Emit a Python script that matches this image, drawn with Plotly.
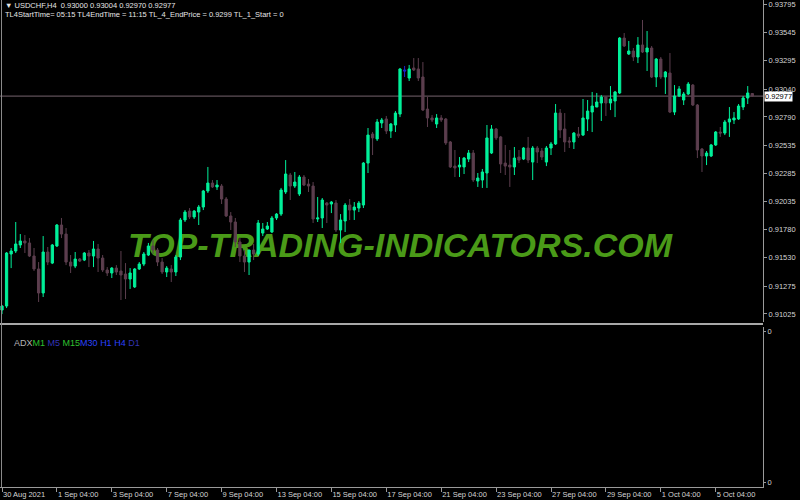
import plotly.graph_objects as go

# ---------------- data ----------------
bar_index = list(range(165))

opens = [
    0.91060, 0.91096, 0.91562, 0.91589, 0.91643, 0.91679, 0.91661, 0.91544, 0.91428, 0.91213,
    0.91580, 0.91481, 0.91634, 0.91822, 0.91741, 0.91490, 0.91454, 0.91517, 0.91508, 0.91571,
    0.91544, 0.91607, 0.91526, 0.91419, 0.91392, 0.91436, 0.91410, 0.91383, 0.91338, 0.91267,
    0.91428, 0.91472, 0.91553, 0.91634, 0.91598, 0.91490, 0.91401, 0.91428, 0.91401, 0.91535,
    0.91867, 0.91947, 0.91894, 0.91938, 0.91983, 0.92127, 0.92198, 0.92163, 0.92171, 0.92055,
    0.91903, 0.91849, 0.91670, 0.91544, 0.91490, 0.91598, 0.91562, 0.91750, 0.91786, 0.91759,
    0.91885, 0.91920, 0.92118, 0.92270, 0.92171, 0.92100, 0.92252, 0.92189, 0.92171, 0.91876,
    0.91885, 0.92019, 0.92010, 0.92019, 0.91777, 0.91858, 0.92001, 0.91956, 0.91974, 0.92001,
    0.92377, 0.92637, 0.92593, 0.92736, 0.92772, 0.92664, 0.92718, 0.92816, 0.93211, 0.93139,
    0.93229, 0.93220, 0.93148, 0.92861, 0.92781, 0.92727, 0.92781, 0.92772, 0.92566, 0.92350,
    0.92342, 0.92342, 0.92413, 0.92467, 0.92216, 0.92225, 0.92288, 0.92467, 0.92682, 0.92611,
    0.92377, 0.92359, 0.92342, 0.92431, 0.92413, 0.92512, 0.92386, 0.92512, 0.92485, 0.92386,
    0.92512, 0.92548, 0.92825, 0.92682, 0.92575, 0.92566, 0.92637, 0.92628, 0.92772, 0.92834,
    0.92879, 0.92915, 0.92969, 0.92915, 0.92933, 0.93005, 0.93497, 0.93354, 0.93381, 0.93327,
    0.93435, 0.93372, 0.93408, 0.93148, 0.93309, 0.93148, 0.93184, 0.92834, 0.92978, 0.92942,
    0.92996, 0.93076, 0.92897, 0.92503, 0.92440, 0.92440, 0.92539, 0.92655, 0.92646, 0.92745,
    0.92763, 0.92772, 0.92879, 0.92960, 0.93000,
]
highs = [
    0.91105, 0.91580, 0.91616, 0.91849, 0.91741, 0.91732, 0.91705, 0.91616, 0.91490, 0.91723,
    0.91625, 0.91652, 0.91831, 0.91885, 0.91795, 0.91553, 0.91580, 0.91526, 0.91580, 0.91598,
    0.91679, 0.91652, 0.91553, 0.91445, 0.91445, 0.91463, 0.91589, 0.91481, 0.91436, 0.91436,
    0.91490, 0.91580, 0.91661, 0.91688, 0.91616, 0.91526, 0.91454, 0.91463, 0.91553, 0.91885,
    0.91956, 0.91974, 0.91956, 0.92001, 0.92136, 0.92342, 0.92225, 0.92225, 0.92189, 0.92073,
    0.91938, 0.91885, 0.91705, 0.91598, 0.91580, 0.91652, 0.91867, 0.91840, 0.91849, 0.91903,
    0.91929, 0.92154, 0.92404, 0.92288, 0.92297, 0.92270, 0.92270, 0.92234, 0.92207, 0.92073,
    0.92064, 0.92028, 0.92037, 0.92046, 0.91920, 0.92019, 0.92055, 0.92028, 0.92037, 0.92386,
    0.92691, 0.92655, 0.92772, 0.92781, 0.92799, 0.92736, 0.92843, 0.93229, 0.93247, 0.93256,
    0.93318, 0.93318, 0.93282, 0.92969, 0.92807, 0.92816, 0.92807, 0.92781, 0.92575, 0.92494,
    0.92431, 0.92431, 0.92494, 0.92494, 0.92288, 0.92324, 0.92718, 0.92718, 0.92691, 0.92620,
    0.92539, 0.92494, 0.92521, 0.92494, 0.92521, 0.92611, 0.92530, 0.92530, 0.92512, 0.92530,
    0.92566, 0.92906, 0.92861, 0.92825, 0.92611, 0.92655, 0.92700, 0.92951, 0.92942, 0.93014,
    0.93005, 0.92987, 0.92978, 0.93067, 0.93023, 0.93506, 0.93542, 0.93471, 0.93408, 0.93506,
    0.93659, 0.93560, 0.93426, 0.93318, 0.93327, 0.93202, 0.93363, 0.93076, 0.93067, 0.93014,
    0.93103, 0.93085, 0.92906, 0.92512, 0.92485, 0.92548, 0.92664, 0.92700, 0.92763, 0.92879,
    0.92834, 0.92906, 0.92978, 0.93067, 0.93004,
]
lows = [
    0.91024, 0.91078, 0.91436, 0.91571, 0.91616, 0.91571, 0.91535, 0.91410, 0.91132, 0.91177,
    0.91463, 0.91472, 0.91625, 0.91705, 0.91463, 0.91392, 0.91436, 0.91490, 0.91499, 0.91445,
    0.91445, 0.91401, 0.91401, 0.91365, 0.91347, 0.91374, 0.91150, 0.91159, 0.91249, 0.91258,
    0.91419, 0.91454, 0.91544, 0.91562, 0.91454, 0.91383, 0.91356, 0.91311, 0.91365, 0.91508,
    0.91849, 0.91876, 0.91876, 0.91822, 0.91956, 0.92109, 0.92154, 0.92136, 0.92010, 0.91894,
    0.91777, 0.91625, 0.91490, 0.91401, 0.91374, 0.91508, 0.91544, 0.91723, 0.91777, 0.91750,
    0.91867, 0.91903, 0.92100, 0.92046, 0.92154, 0.92082, 0.92171, 0.92118, 0.91840, 0.91849,
    0.91795, 0.91840, 0.91929, 0.91759, 0.91661, 0.91759, 0.91867, 0.91867, 0.91938, 0.91974,
    0.92288, 0.92449, 0.92575, 0.92691, 0.92637, 0.92602, 0.92655, 0.92789, 0.93148, 0.93112,
    0.93202, 0.93112, 0.92843, 0.92700, 0.92745, 0.92691, 0.92745, 0.92539, 0.92333, 0.92252,
    0.92252, 0.92279, 0.92386, 0.92207, 0.92163, 0.92154, 0.92154, 0.92458, 0.92584, 0.92288,
    0.92270, 0.92163, 0.92270, 0.92377, 0.92404, 0.92377, 0.92225, 0.92377, 0.92404, 0.92350,
    0.92449, 0.92539, 0.92602, 0.92476, 0.92512, 0.92503, 0.92602, 0.92620, 0.92664, 0.92655,
    0.92879, 0.92754, 0.92799, 0.92852, 0.92789, 0.92996, 0.93417, 0.93345, 0.93291, 0.93273,
    0.93363, 0.93202, 0.93139, 0.93058, 0.93130, 0.92996, 0.92825, 0.92807, 0.92969, 0.92897,
    0.92987, 0.92888, 0.92422, 0.92297, 0.92359, 0.92431, 0.92530, 0.92611, 0.92628, 0.92611,
    0.92727, 0.92763, 0.92852, 0.92906, 0.92970,
]
closes = [
    0.91096, 0.91571, 0.91589, 0.91652, 0.91679, 0.91661, 0.91544, 0.91428, 0.91213, 0.91580,
    0.91490, 0.91643, 0.91822, 0.91741, 0.91490, 0.91454, 0.91517, 0.91499, 0.91571, 0.91544,
    0.91607, 0.91526, 0.91419, 0.91392, 0.91436, 0.91401, 0.91374, 0.91338, 0.91392, 0.91428,
    0.91472, 0.91562, 0.91634, 0.91598, 0.91490, 0.91401, 0.91436, 0.91401, 0.91535, 0.91867,
    0.91938, 0.91894, 0.91947, 0.91983, 0.92127, 0.92198, 0.92163, 0.92180, 0.92055, 0.91903,
    0.91849, 0.91670, 0.91544, 0.91490, 0.91598, 0.91562, 0.91840, 0.91786, 0.91813, 0.91885,
    0.91920, 0.92136, 0.92279, 0.92171, 0.92207, 0.92252, 0.92180, 0.92171, 0.91876, 0.91885,
    0.92046, 0.92001, 0.92028, 0.91777, 0.91867, 0.92001, 0.91956, 0.91983, 0.92019, 0.92377,
    0.92628, 0.92602, 0.92745, 0.92763, 0.92664, 0.92727, 0.92825, 0.93220, 0.93202, 0.93220,
    0.93211, 0.93139, 0.92852, 0.92781, 0.92763, 0.92781, 0.92763, 0.92557, 0.92342, 0.92333,
    0.92359, 0.92422, 0.92467, 0.92225, 0.92243, 0.92297, 0.92602, 0.92682, 0.92602, 0.92369,
    0.92350, 0.92342, 0.92422, 0.92404, 0.92512, 0.92404, 0.92512, 0.92476, 0.92431, 0.92512,
    0.92548, 0.92825, 0.92673, 0.92566, 0.92566, 0.92646, 0.92620, 0.92781, 0.92843, 0.92888,
    0.92924, 0.92969, 0.92915, 0.92951, 0.93014, 0.93497, 0.93426, 0.93381, 0.93327, 0.93435,
    0.93372, 0.93408, 0.93148, 0.93309, 0.93148, 0.93193, 0.92834, 0.92978, 0.93041, 0.92996,
    0.93085, 0.92897, 0.92494, 0.92440, 0.92467, 0.92539, 0.92655, 0.92646, 0.92745, 0.92772,
    0.92781, 0.92888, 0.92960, 0.93005, 0.92977,
]
blue_bars = [88]

price_tick_vals = [0.93795, 0.93545, 0.93295, 0.93040, 0.92790, 0.92535,
                   0.92285, 0.92035, 0.91780, 0.91530, 0.91275, 0.91025]
price_tick_text = ["0.93795", "0.93545", "0.93295", "0.93040", "0.92790", "0.92535",
                   "0.92285", "0.92035", "0.91780", "0.91530", "0.91275", "0.91025"]

date_tick_idx = [0, 12, 24, 36, 48, 60, 72, 84, 96, 108, 120, 132, 144, 156]
date_tick_text = ["30 Aug 2021", "1 Sep 04:00", "3 Sep 04:00", "7 Sep 04:00", "9 Sep 04:00",
                  "13 Sep 04:00", "15 Sep 04:00", "17 Sep 04:00", "21 Sep 04:00",
                  "23 Sep 04:00", "27 Sep 04:00", "29 Sep 04:00", "1 Oct 04:00", "5 Oct 04:00"]

bid_price = 0.92977
header_line1 = "▼ USDCHF,H4  0.93000 0.93004 0.92970 0.92977"
header_line2 = "TL4StartTime= 05:15 TL4EndTime = 11:15 TL_4_EndPrice = 0.9299 TL_1_Start = 0"
watermark = "TOP-TRADING-INDICATORS.COM"

# ---------------- styling ----------------
BULL = "#00F09A"
BEAR = "#5C3E4E"
BLUE = "#2222D0"
AXIS = "#9A9A9A"
LABEL = "#D4D4D4"
FONT = "Liberation Sans"

W, H = 800, 500
ML, MR, MT, MB = 0, 37, 0, 13
PH = H - MT - MB          # 487
main_dom = [1 - 322 / PH, 1.0]
ind_dom = [0.0, 160 / PH]
x_range = [-0.437, 166.34]
y_range = [0.90953, 0.93838]

main_idx = [i for i in bar_index if i not in blue_bars]

fig = go.Figure()

# watermark (drawn underneath the candles, base subplot)
fig.add_trace(go.Scatter(
    x=[87.0], y=[(322 - 248) / 322], mode="text", text=[watermark],
    textfont=dict(family=FONT, size=34, color="#4A9A18", weight="bold", style="italic"),
    xaxis="x", yaxis="y", hoverinfo="skip", showlegend=False,
))

fig.add_trace(go.Candlestick(
    x=main_idx,
    open=[opens[i] for i in main_idx], high=[highs[i] for i in main_idx],
    low=[lows[i] for i in main_idx], close=[closes[i] for i in main_idx],
    increasing=dict(line=dict(color=BULL, width=1), fillcolor=BULL),
    decreasing=dict(line=dict(color=BEAR, width=1), fillcolor=BEAR),
    whiskerwidth=0, xaxis="x", yaxis="y3", showlegend=False, hoverinfo="skip",
))
fig.add_trace(go.Candlestick(
    x=blue_bars,
    open=[opens[i] for i in blue_bars], high=[highs[i] for i in blue_bars],
    low=[lows[i] for i in blue_bars], close=[closes[i] for i in blue_bars],
    increasing=dict(line=dict(color=BLUE, width=1), fillcolor=BLUE),
    decreasing=dict(line=dict(color=BLUE, width=1), fillcolor=BLUE),
    whiskerwidth=0, xaxis="x", yaxis="y3", showlegend=False, hoverinfo="skip",
))

# empty indicator panel trace (keeps subplot alive)
fig.add_trace(go.Scatter(x=[None], y=[None], xaxis="x2", yaxis="y2",
                         showlegend=False, hoverinfo="skip"))

fig.update_layout(
    width=W, height=H,
    margin=dict(l=ML, r=MR, t=MT, b=MB),
    paper_bgcolor="black", plot_bgcolor="black",
    showlegend=False,
    font=dict(family=FONT, size=8, color=LABEL),
    boxgap=0.3,
    xaxis=dict(domain=[0, 1], range=x_range, anchor="y", showticklabels=False,
               showgrid=False, zeroline=False, showline=False, ticks="",
               rangeslider=dict(visible=False), fixedrange=True),
    yaxis=dict(domain=main_dom, range=[0, 1], visible=False, fixedrange=True),
    yaxis3=dict(overlaying="y", side="right", anchor="x", range=y_range,
                tickvals=price_tick_vals, ticktext=price_tick_text,
                ticks="outside", ticklen=3, tickcolor=AXIS,
                showline=True, linecolor=AXIS, linewidth=1,
                showgrid=False, zeroline=False,
                tickfont=dict(family=FONT, size=7.5, color=LABEL), fixedrange=True),
    xaxis2=dict(domain=[0, 1], range=x_range, anchor="y2", matches="x",
                tickvals=date_tick_idx, ticktext=date_tick_text,
                ticks="outside", ticklen=4, tickcolor=AXIS,
                ticklabelposition="outside right",
                showline=True, linecolor=AXIS, linewidth=1,
                showgrid=False, zeroline=False,
                tickfont=dict(family=FONT, size=7.5, color=LABEL), fixedrange=True),
    yaxis2=dict(domain=ind_dom, range=[0, 1], side="right", anchor="x2",
                tickvals=[0.031, 0.975], ticktext=["0", "0"],
                ticks="outside", ticklen=2, tickcolor=AXIS,
                showline=True, linecolor=AXIS, linewidth=1,
                showgrid=False, zeroline=False,
                tickfont=dict(family=FONT, size=7.5, color=LABEL), fixedrange=True),
)

shapes = [
    # bid line
    dict(type="line", xref="paper", yref="y3", x0=0, x1=1, y0=bid_price, y1=bid_price,
         line=dict(color="#76646E", width=1), layer="below"),
    # separator between panels
    dict(type="line", xref="paper", yref="paper", x0=0, x1=1,
         y0=(PH - 324) / PH, y1=(PH - 324) / PH, line=dict(color="#A8A8A8", width=2)),
    # left border line
    dict(type="line", xref="paper", yref="paper", x0=1.5 / 763, x1=1.5 / 763,
         y0=0, y1=1, line=dict(color="#8A8A8A", width=1)),
]
fig.update_layout(shapes=shapes)

annotations = [
    dict(xref="paper", yref="paper", x=3 / 763, y=1 - 5.5 / PH, xanchor="left", yanchor="middle",
         text=header_line1, showarrow=False, font=dict(family=FONT, size=7.5, color="#E6E6E6")),
    dict(xref="paper", yref="paper", x=3 / 763, y=1 - 14.5 / PH, xanchor="left", yanchor="middle",
         text=header_line2, showarrow=False, font=dict(family=FONT, size=7.5, color="#E6E6E6")),
    dict(xref="paper", yref="y3", x=1, y=bid_price, xanchor="left", yanchor="middle",
         xshift=1, yshift=-0.5, text="0.92977", showarrow=False, bgcolor="white", borderpad=0,
         font=dict(family=FONT, size=7.5, color="black")),
    dict(xref="paper", yref="paper", x=12 / 763, y=(PH - 343) / PH, xanchor="left", yanchor="middle",
         showarrow=False, font=dict(family=FONT, size=9),
         text=("<span style='color:#B4B4B4'>ADX</span>"
               "<span style='color:#2FC02F'>M1</span> "
               "<span style='color:#3434B4'>M5</span> "
               "<span style='color:#2FC02F'>M15</span>"
               "<span style='color:#2A40FF'>M30</span> "
               "<span style='color:#2A40FF'>H1</span> "
               "<span style='color:#2A40FF'>H4</span> "
               "<span style='color:#3434B4'>D1</span>")),
]
fig.update_layout(annotations=annotations)

fig.write_html(
    "out.html",
    config={"displayModeBar": False},
    post_script="document.body.style.margin='0';document.body.style.background='black';",
)
